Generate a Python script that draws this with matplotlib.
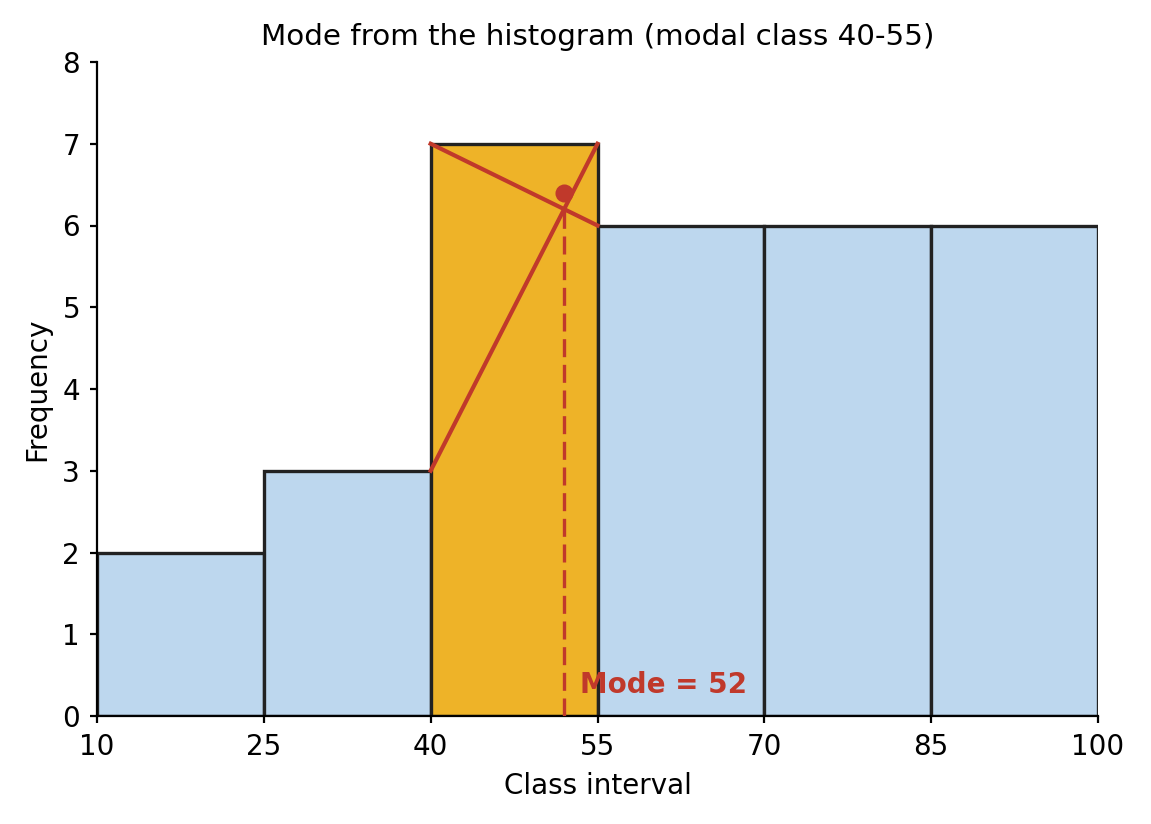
import matplotlib
matplotlib.use("Agg")
import matplotlib.pyplot as plt

# class intervals and frequencies
edges = [10, 25, 40, 55, 70, 85, 100]
freq = [2, 3, 7, 6, 6, 6]
modal_idx = 2
dot_y = 6.4

blue = "#bdd7ee"
orange = "#eeb328"
red = "#c0392b"

fig = plt.figure(figsize=(1151 / 200, 824 / 200), dpi=200)
ax = fig.add_axes([97 / 1151, 1 - 716 / 824, 1001 / 1151, 654 / 824])

lefts = edges[:-1]
colors = [orange if i == modal_idx else blue for i in range(len(freq))]
ax.bar(lefts, freq, width=15, align="edge", color=colors, edgecolor="#222222", linewidth=1.2, zorder=2)

# mode construction
L = edges[modal_idx]
R = edges[modal_idx + 1]
h = R - L
f1 = freq[modal_idx]
f0 = freq[modal_idx - 1]
f2 = freq[modal_idx + 1]
mode = L + (f1 - f0) / (2 * f1 - f0 - f2) * h
y_cross = f1 - (f1 - f2) * (mode - L) / h

ax.plot([L, R], [f1, f2], color=red, lw=1.5, zorder=3)
ax.plot([L, R], [f0, f1], color=red, lw=1.5, zorder=3)
ax.plot([mode, mode], [0, y_cross], color=red, lw=1.2, ls="--", dashes=(5.4, 2.3), zorder=3)
ax.plot([mode], [dot_y], "o", color=red, ms=5.5, zorder=4)
ax.text(mode + 1.4, 0.38, "Mode = %d" % round(mode), color=red, fontweight="bold",
        fontsize=10, va="center", ha="left", zorder=5)

ax.set_xlim(10, 100)
ax.set_ylim(0, 8)
ax.set_xticks(edges)
ax.set_xlabel("Class interval")
ax.set_ylabel("Frequency")
ax.set_title("Mode from the histogram (modal class 40-55)", fontsize=10.6)
ax.spines["top"].set_visible(False)
ax.spines["right"].set_visible(False)
ax.tick_params(length=2.6)

fig.savefig("out.png", dpi=200)
